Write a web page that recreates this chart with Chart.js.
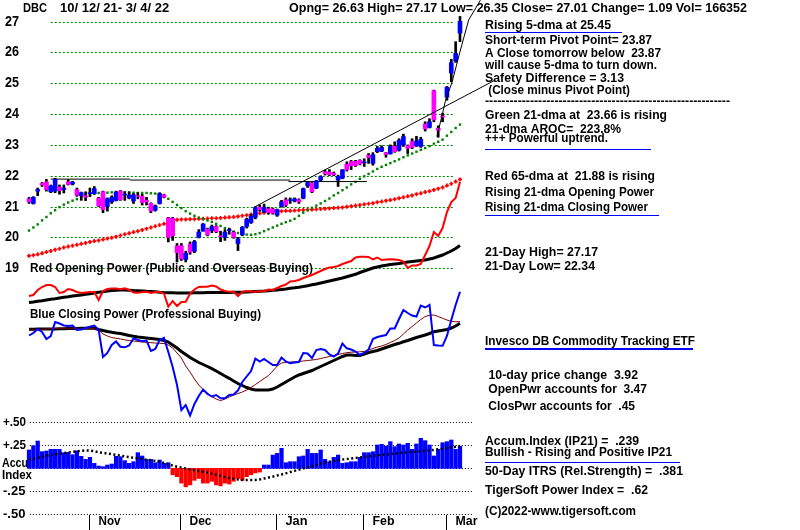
<!DOCTYPE html>
<html>
<head>
<meta charset="utf-8">
<script src="https://cdn.jsdelivr.net/npm/chart.js@4"></script>
<style>
  body { margin: 0; background: #fff; }
  canvas { display: block; }
</style>
</head>
<body>
<canvas id="tigerChart" width="800" height="530"></canvas>
<script>
// DBC 10/12/21 - 3/4/22, one entry per trading day
const opens = [21.25,21.1,21.5,21.75,21.8,21.48,21.5,21.63,21.55,21.8,21.73,21.55,21.35,21.35,21.42,21.42,21.27,21.48,21.0,21.15,
  21.2,21.5,21.38,21.28,21.18,21.35,21.33,21.2,21.1,20.88,21.1,21.38,20.63,20.62,19.72,19.73,19.28,19.78,19.55,20.0,
  20.2,20.27,20.22,20.35,20.05,20.0,20.22,20.17,19.8,20.08,20.35,20.48,20.65,20.98,20.82,20.93,20.92,20.72,21.0,21.22,
  21.2,21.18,21.22,21.27,21.67,21.76,21.6,21.86,22.13,22.12,22.08,21.86,21.92,22.37,22.46,22.46,22.5,22.42,22.66,22.4,
  22.78,22.8,22.75,22.71,22.96,22.83,23.0,22.97,23.11,22.97,22.95,23.68,23.57,24.76,23.54,23.94,24.55,25.33,25.72,26.63];
const highs = [21.3,21.32,21.6,21.78,21.88,21.7,21.92,21.7,21.7,21.87,21.82,21.6,21.47,21.48,21.6,21.65,21.3,21.5,21.28,21.35,
  21.5,21.52,21.48,21.48,21.42,21.45,21.4,21.3,21.12,21.05,21.45,21.4,20.65,20.65,19.8,19.8,19.55,19.85,19.9,20.25,
  20.45,20.3,20.4,20.38,20.2,20.25,20.3,20.2,20.0,20.35,20.62,20.75,21.0,21.05,21.08,20.98,20.95,20.92,21.2,21.28,
  21.28,21.28,21.25,21.6,21.8,21.78,21.85,22.0,22.18,22.2,22.12,22.02,22.2,22.45,22.5,22.5,22.52,22.55,22.72,22.75,
  22.95,22.97,22.76,23.0,23.1,23.2,23.35,23.0,23.2,23.28,23.25,23.75,23.85,24.78,23.62,24.03,24.9,25.78,26.35,27.17];
const lows = [21.1,21.08,21.35,21.65,21.5,21.45,21.45,21.4,21.44,21.7,21.7,21.33,21.2,21.19,21.32,21.4,21.0,20.8,20.85,21.1,
  21.18,21.2,21.2,21.25,21.1,21.25,21.05,21.05,20.8,20.85,21.08,21.28,19.85,19.9,19.2,19.25,19.2,19.45,19.5,19.98,
  20.2,20.05,20.15,20.15,19.86,19.9,20.1,19.97,19.57,20.05,20.3,20.45,20.6,20.85,20.8,20.75,20.75,20.68,20.98,21.0,
  21.1,21.15,21.1,21.25,21.62,21.45,21.58,21.82,22.02,22.0,22.0,21.65,21.9,22.15,22.2,22.3,22.35,22.3,22.4,22.34,
  22.75,22.78,22.6,22.7,22.76,22.8,22.95,22.72,22.88,22.95,22.92,23.45,23.55,23.75,23.25,23.75,24.45,25.05,25.68,26.35];
const closes = [21.15,21.3,21.55,21.7,21.55,21.67,21.88,21.52,21.6,21.72,21.79,21.37,21.45,21.3,21.45,21.58,21.02,20.9,21.25,21.3,
  21.47,21.22,21.4,21.37,21.38,21.33,21.13,21.15,20.85,21.02,21.42,21.3,20.0,20.05,19.5,19.3,19.48,19.52,19.86,20.17,
  20.43,20.08,20.35,20.18,20.02,20.17,20.25,20.0,19.95,20.33,20.58,20.69,20.97,20.9,20.98,20.8,20.78,20.9,21.15,21.05,
  21.22,21.25,21.15,21.58,21.78,21.48,21.83,21.97,22.06,22.03,22.03,21.98,22.19,22.19,22.32,22.33,22.38,22.45,22.59,22.68,
  22.89,22.92,22.69,22.95,22.78,23.15,23.27,22.89,22.92,23.13,23.18,23.52,23.75,23.81,23.47,23.9,24.87,25.67,25.97,27.01];

const ma21 = [20.22,20.32,20.42,20.55,20.66,20.78,20.88,20.98,21.06,21.13,21.19,21.24,21.3,21.35,21.39,21.42,21.44,21.45,21.45,21.46,
  21.46,21.47,21.46,21.45,21.45,21.44,21.44,21.44,21.43,21.42,21.4,21.36,21.25,21.15,21.05,20.95,20.85,20.77,20.7,20.64,
  20.6,20.55,20.5,20.44,20.37,20.3,20.24,20.18,20.14,20.11,20.09,20.08,20.1,20.14,20.2,20.26,20.32,20.38,20.44,20.49,
  20.54,20.6,20.7,20.8,20.88,20.96,21.03,21.1,21.18,21.26,21.36,21.44,21.53,21.62,21.72,21.8,21.9,21.98,22.06,22.14,
  22.22,22.29,22.35,22.41,22.47,22.53,22.6,22.66,22.72,22.78,22.84,22.9,22.96,23.04,23.1,23.17,23.3,23.42,23.55,23.66];
const ma65 = [19.4,19.42,19.45,19.48,19.52,19.56,19.6,19.63,19.67,19.7,19.73,19.76,19.79,19.82,19.85,19.88,19.9,19.93,19.96,19.99,
  20.02,20.06,20.1,20.13,20.17,20.2,20.24,20.28,20.32,20.36,20.4,20.44,20.5,20.55,20.57,20.58,20.58,20.59,20.59,20.6,
  20.6,20.61,20.62,20.62,20.63,20.64,20.65,20.66,20.68,20.7,20.72,20.74,20.76,20.78,20.8,20.82,20.83,20.84,20.85,20.86,
  20.86,20.87,20.88,20.89,20.9,20.9,20.91,20.92,20.93,20.94,20.95,20.96,20.97,20.99,21.01,21.03,21.05,21.07,21.09,21.11,
  21.14,21.16,21.19,21.21,21.24,21.27,21.3,21.33,21.36,21.4,21.43,21.47,21.5,21.54,21.58,21.62,21.68,21.74,21.81,21.88];

// trend lines, [day index, price]
const resist1 = [[5, 21.89], [23.2, 21.89]];
const resist2 = [[23.2, 21.86], [60, 21.86]];
const resist3 = [[59.6, 21.81], [77.6, 21.81]];
const upTrend = [[52, 21.0], [107, 25.1]];
const steepTrend = [[93.7, 23.27], [94.9, 23.97], [95.6, 24.4], [97.2, 25.05], [99.1, 26.08], [101, 27.06], [103.7, 27.7]];

// Opening Power (red) and its moving average, relative units
const openPwr = [14,15,20,23,25,25,23,17,18,21,20,18,17,17.5,18,18,10,19,21,21.5,
  21.5,20.7,21.7,20,17.5,17.3,18,18.3,17,18,18,16.5,3.3,9,4,8,8.3,16.5,20.5,23,
  23.3,23.3,24.5,23.5,20.5,19,18.3,18.3,14,18,19,18.5,18.3,19,18.5,20.5,20,22,24,25.5,
  28.5,29,30,32,33.5,35,37,39,41,42.5,43,44,46,47.5,49,52.5,53.3,53.3,53,50.5,
  52.5,50,50.5,50.7,50.5,50,48.5,42,44.5,44.5,46,55,64,78,74,82,98,108,112,128];
const openPwrMa = [7.5,8,8.7,9.3,10,10.7,11.3,12,12.7,13.3,14,14.5,15,15.7,16.3,17,17.7,18.3,19,19.5,
  19.8,20,20,19.7,19.4,19.2,19,18.7,18.5,18.2,17.8,17.5,17.3,17.2,17,17,17,17,17.2,17.3,
  17.3,17.4,17.5,17.5,17.5,17.6,17.6,17.7,17.7,17.8,18,18.2,18.5,18.8,19,19.3,19.7,20,20.5,21,
  21.7,22.2,22.8,23.5,24.3,25.2,26,27,28,29,30,31,32,33.2,34.5,35.7,37.5,39,40.5,42,
  43,44,44.7,45.5,46,46.5,47.3,48,48.5,49,49.5,50,51,52,53.5,55,57,59,61.5,64.5];

// Closing Power (blue), its long MA (black) and short MA (dark red), relative units
const closePwr = [84.5,87,91,88,81,84,98,96.5,94.5,94,94.5,90,90.5,92,93.3,94.5,90,63,67,75,
  78.5,73.3,72.7,74.5,81.5,80,78.8,79.5,69,71,80,82,68,53,35,10,15,4.5,16,24,
  30.5,26,23.5,25,21.7,21.7,25,25.5,29.5,38,43.5,49,61.5,58.5,61,58,55,55,62.5,58.5,
  56.7,57.5,58,67,66.5,62,70,71,70,65.5,63.5,66.5,76.5,71.7,70.5,68.5,65,67,70.5,81,
  83,84,85,91.5,91.5,101,110,107,104.5,103.5,114.5,112.5,115,75,74.5,74.2,84,100,115,128.3];
const closePwrMa = [90.7,90.8,90.9,91,91,91,91.1,91.2,91.3,91.4,91.5,91.6,91.7,91.7,91.7,91.7,90.5,89.5,88.5,87.7,
  87,86.5,85.5,84.5,83.7,83,82.5,82,81.5,81,80.5,79.5,78,75,72,68.5,65.5,62.5,60,57.5,
  55.5,53.5,51.3,49,46.5,44,41.7,39,36.5,34.5,32.5,31,30,30,30,30,31,33,35.5,38,
  40.5,43,45,46.5,48,49.5,51.5,53.5,55.5,57.5,59.5,61.5,63.5,65,65,64.5,64.5,66,67.5,68.5,
  69.5,71,72.5,74,75.5,76.7,78.2,79.5,81,82.5,83.7,85,86.5,88.3,89,89.7,90.5,92,94,96.7];
const closePwrShort = [90,90.2,90.5,90.7,91,91.2,91.5,91.7,91.7,91.7,91.7,91.7,91.7,91.7,91.7,91.5,90,86,84,82.5,
  81.7,81,80.2,79.5,79,78.5,78,77.7,77.3,77,76.7,76.5,75,72,67,62,54,48,41,35,
  30.5,27,23.5,21,19.3,21,23,25,26.5,28,30,32.5,35.5,38.5,41.5,44.5,49,54,57,57.5,
  58,58.2,58.5,59,59.5,60,60.5,61.5,62.5,63.5,64.5,65.5,66.5,67.3,67.8,68,68.2,68.5,70,71.5,
  73,74,75.5,77.5,79.5,82,86,90,93.5,97,100.5,103.5,104.7,105,103.5,101.7,100,98.5,98.3,98.3];

// Accumulation Index (IP21) and its moving average
const accum = [0.199,0.245,0.296,0.181,0.188,0.206,0.206,0.206,0.17,0.173,0.148,0.191,0.13,0.097,0.119,0.054,0.025,0.018,0.036,0.047,
  0.13,0.126,0.083,0.054,0.072,0.17,0.134,0.097,0.097,0.061,0.09,0.054,0.061,-0.07,-0.09,-0.16,-0.2,-0.18,-0.13,-0.11,
  -0.16,-0.16,-0.14,-0.18,-0.19,-0.16,-0.17,-0.14,-0.11,-0.13,-0.09,-0.07,-0.05,-0.04,0.036,0.036,0.144,0.162,0.217,0.061,
  0.072,0.072,0.126,0.134,0.206,0.162,0.162,0.199,0.097,0.072,0.119,0.144,0.054,0.061,0.072,0.072,0.119,0.17,0.17,0.18,
  0.253,0.26,0.242,0.289,0.235,0.264,0.253,0.271,0.206,0.264,0.325,0.3,0.253,0.134,0.206,0.278,0.289,0.307,0.206,0.239];
const accumMa = [0.095,0.105,0.115,0.125,0.135,0.145,0.15,0.158,0.165,0.172,0.178,0.185,0.19,0.195,0.193,0.185,0.175,0.168,0.16,0.153,
  0.145,0.138,0.13,0.122,0.115,0.108,0.1,0.094,0.088,0.08,0.07,0.058,0.045,0.03,0.018,0.008,-0.002,-0.012,-0.02,-0.028,
  -0.036,-0.045,-0.058,-0.07,-0.082,-0.095,-0.105,-0.113,-0.12,-0.125,-0.127,-0.127,-0.125,-0.12,-0.11,-0.1,-0.09,-0.078,-0.066,-0.054,
  -0.04,-0.027,-0.014,0,0.012,0.025,0.038,0.05,0.062,0.072,0.08,0.088,0.095,0.1,0.106,0.112,0.118,0.124,0.13,0.135,
  0.14,0.145,0.15,0.155,0.16,0.165,0.17,0.174,0.178,0.182,0.186,0.19,0.195,0.2,0.206,0.212,0.22,0.228,0.235,0.242];

const priceTicks = [19, 20, 21, 22, 23, 24, 25, 26, 27];
const accumTicks = [0.5, 0.25, 0, -0.25, -0.5];
const accumTickLabels = ['+.50', '+.25', '', '-.25', '-.50'];
const monthNames = ['Nov', 'Dec', 'Jan', 'Feb', 'Mar'];
const monthStarts = [14, 35, 57, 77, 96];

const FONT = '"Liberation Sans", Arial, sans-serif';
const pts = arr => arr.map((v, i) => ({x: i, y: v}));
const pairs = arr => arr.map(p => ({x: p[0], y: p[1]}));

function txt(ctx, s, x, y, w, size) {
    ctx.font = 'bold ' + (size || 12) + 'px ' + FONT;
    ctx.fillStyle = '#000';
    ctx.textAlign = 'left';
    ctx.textBaseline = 'middle';
    ctx.fillText(s, x, y, w);
}

const panelText = {
    id: 'panelText',
    beforeDraw(chart) {
        const ctx = chart.ctx;
        ctx.save();
        ctx.fillStyle = '#fff';
        ctx.fillRect(0, 0, chart.width, chart.height);
        ctx.restore();
    },
    beforeDatasetsDraw(chart) {
        const ctx = chart.ctx;
        const xs = chart.scales.x, yp = chart.scales.yPrice, ya = chart.scales.yAcc;
        ctx.save();

        // price grid
        ctx.strokeStyle = '#008000';
        ctx.lineWidth = 1;
        ctx.setLineDash([2, 2]);
        priceTicks.forEach(p => {
            const y = Math.round(yp.getPixelForValue(p)) + 0.5;
            ctx.beginPath();
            ctx.moveTo(xs.getPixelForValue(5), y);
            ctx.lineTo(xs.getPixelForValue(97.5), y);
            ctx.stroke();
            txt(ctx, String(p), 5, y, 14, 14);
        });

        // accumulation grid
        ctx.strokeStyle = '#000';
        ctx.setLineDash([1, 2]);
        accumTicks.forEach((v, k) => {
            const y = Math.round(ya.getPixelForValue(v)) + 0.5;
            ctx.beginPath();
            ctx.moveTo(xs.getPixelForValue(0.2), y);
            ctx.lineTo(xs.getPixelForValue(101.8), y);
            ctx.stroke();
            if (accumTickLabels[k]) txt(ctx, accumTickLabels[k], 3, y, 23, 13);
        });
        ctx.setLineDash([]);
        txt(ctx, 'Accu', 2, 463, 26, 13);
        txt(ctx, 'Index', 2, 475, 30, 13);

        // months
        monthStarts.forEach((d, k) => {
            const x = Math.round(xs.getPixelForValue(d - 0.3)) + 0.5;
            ctx.beginPath();
            ctx.moveTo(x, 515);
            ctx.lineTo(x, 530);
            ctx.stroke();
            txt(ctx, monthNames[k], x + 9, 521, 22, 13);
        });

        // headings
        txt(ctx, 'DBC', 23, 8, 24, 13);
        txt(ctx, '10/ 12/ 21- 3/ 4/ 22', 60, 8, 117, 13);
        txt(ctx, 'Opng= 26.63 High= 27.17 Low= 26.35 Close= 27.01 Change= 1.09 Vol= 166352', 289, 8, 458, 13);
        txt(ctx, 'Red Opening Power (Public and Overseas Buying)', 30, 268, 283, 13);
        txt(ctx, 'Blue Closing Power (Professional Buying)', 30, 314, 231, 13);

        const lines = [
            ['Rising 5-dma at 25.45', 485, 25, 126],
            ['Short-term Pivot Point= 23.87', 485, 40.7, 167],
            ['A Close tomorrow below  23.87', 485, 53, 176],
            ['will cause 5-dma to turn down.', 485, 65, 172],
            ['Safety Difference = 3.13', 485, 78, 139],
            [' (Close minus Pivot Point)', 485, 90, 145],
            ['-'.repeat(60), 485, 101.5, 245],
            ['Green 21-dma at  23.66 is rising', 485, 115, 182],
            ['21-dma AROC=  223.8%', 485, 129.3, 136],
            ['+++ Powerful uptrend.', 485, 138.3, 123],
            ['Red 65-dma at  21.88 is rising', 485, 176, 170],
            ['Rising 21-dma Opening Power', 485, 192, 169],
            ['Rising 21-dma Closing Power', 485, 207, 163],
            ['21-Day High= 27.17', 485, 252.3, 113],
            ['21-Day Low= 22.34', 485, 266, 110],
            ['Invesco DB Commodity Tracking ETF', 485, 341.7, 210],
            [' 10-day price change  3.92', 485, 375, 153],
            [' OpenPwr accounts for  3.47', 485, 389.7, 162],
            [' ClosPwr accounts for  .45', 485, 406, 150],
            ['Accum.Index (IP21) =  .239', 485, 441, 154],
            ['Bullish - Rising and Positive IP21', 485, 452.7, 187],
            ['50-Day ITRS (Rel.Strength) =  .381', 485, 471.7, 198],
            ['TigerSoft Power Index =  .62', 485, 490, 163],
            ['(C)2022-www.tigersoft.com', 485, 511.7, 151]
        ];
        lines.forEach(l => txt(ctx, l[0], l[1], l[2], l[3], 13));

        // blue underlines
        ctx.strokeStyle = '#0000ff';
        [[485, 622, 32.5, 1], [485, 651, 149.5, 1], [485, 659, 215.5, 1], [485, 693, 349, 2], [485, 680, 462.5, 1]].forEach(u => {
            ctx.lineWidth = u[3];
            ctx.beginPath();
            ctx.moveTo(u[0], u[2]);
            ctx.lineTo(u[1], u[2]);
            ctx.stroke();
        });
        ctx.restore();
    }
};

const lineDs = (data, axis, color, width, order, extra) => Object.assign({
    type: 'line', data: data, yAxisID: axis, borderColor: color, borderWidth: width,
    pointRadius: 0, tension: 0, fill: false, order: order
}, extra || {});

const ctx = document.getElementById('tigerChart').getContext('2d');
const chart = new Chart(ctx, {
    type: 'bar',
    data: {
        datasets: [
            lineDs(pairs(steepTrend), 'yPrice', '#000', 1, 1),
            lineDs(pairs(upTrend), 'yPrice', '#000', 1, 1),
            {
                type: 'bar', yAxisID: 'yPrice', grouped: false, order: 2,
                data: opens.map((o, i) => ({x: i, y: [o, closes[i]]})),
                backgroundColor: opens.map((o, i) => closes[i] >= o ? '#0000ff' : '#ff00ff'),
                barThickness: 4, borderWidth: 0
            },
            {
                type: 'bar', yAxisID: 'yPrice', grouped: false, order: 3,
                data: lows.map((l, i) => ({x: i, y: [l, highs[i]]})),
                backgroundColor: '#000', barThickness: 2, borderWidth: 0
            },
            lineDs(pairs(resist1), 'yPrice', '#000', 1, 4),
            lineDs(pairs(resist2), 'yPrice', '#000', 1, 4),
            lineDs(pairs(resist3), 'yPrice', '#000', 1, 4),
            lineDs(pts(ma21), 'yPrice', '#008000', 0, 5, {
                showLine: false, pointRadius: 1.7, pointStyle: 'rect',
                pointBackgroundColor: '#008000', pointBorderWidth: 0
            }),
            lineDs(pts(ma65), 'yPrice', '#ff0000', 0, 6, {
                showLine: false, pointRadius: 2, pointStyle: 'cross',
                pointBorderColor: '#ff0000', pointBorderWidth: 1.7
            }),
            lineDs(pts(openPwr), 'yOP', '#ff0000', 2, 7),
            lineDs(pts(openPwrMa), 'yOP', '#000', 3, 8),
            lineDs(pts(closePwr), 'yCP', '#0000ff', 2, 7),
            lineDs(pts(closePwrShort), 'yCP', '#800000', 1, 8),
            lineDs(pts(closePwrMa), 'yCP', '#000', 3, 9),
            lineDs(pts(accumMa), 'yAcc', '#000', 2.5, 10, {borderDash: [2, 2.5]}),
            {
                type: 'bar', yAxisID: 'yAcc', grouped: false, order: 11,
                data: accum.map((v, i) => ({x: i, y: [0, v]})),
                backgroundColor: accum.map(v => v >= 0 ? '#0000ff' : '#ff0000'),
                barThickness: 3.6, borderWidth: 0
            }
        ]
    },
    options: {
        responsive: false,
        animation: false,
        devicePixelRatio: 1,
        layout: {padding: 0, autoPadding: false},
        plugins: {legend: {display: false}, tooltip: {enabled: false}},
        scales: {
            x: {type: 'linear', offset: false, min: -6.661, max: 177.1, display: false},
            yPrice: {type: 'linear', min: 10.5, max: 27.704, display: false},
            yOP: {type: 'linear', min: -220, max: 310, display: false},
            yCP: {type: 'linear', min: -110, max: 420, display: false},
            yAcc: {type: 'linear', min: -0.668, max: 5.074, display: false}
        }
    },
    plugins: [panelText]
});
</script>
</body>
</html>
